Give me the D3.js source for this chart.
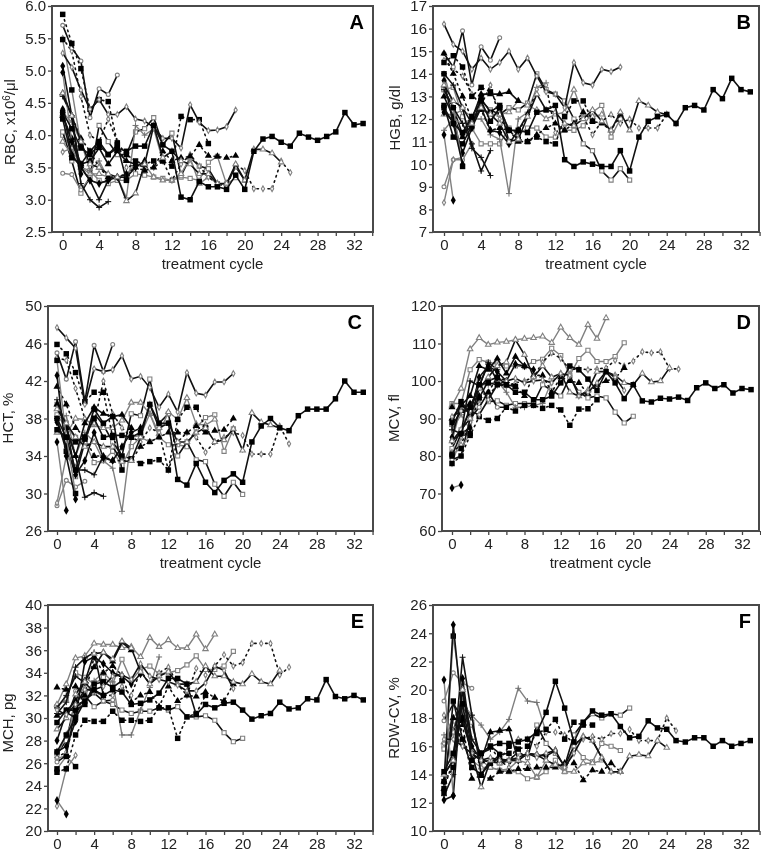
<!DOCTYPE html>
<html>
<head>
<meta charset="utf-8">
<script src="https://cdn.jsdelivr.net/npm/d3@7"></script>
<style>
  body { margin: 0; background: #fff; }
  svg { display: block; filter: blur(0.35px); }
  text { font-family: "Liberation Sans", Arial, sans-serif; fill: #222; }
  .axis text { font-size: 15px; }
  .axis line { stroke: #444; stroke-width: 1.3px; }
  .axis path { display: none; }
  .frame { fill: none; stroke: #4a4a4a; stroke-width: 2px; }
  .tag { font-size: 20px; font-weight: bold; fill: #000; }
</style>
</head>
<body>
<div id="chart"></div>
<script>
// one entry per patient, same order in every value table below
var patients = ["p", "f", "d", "i", "l", "m", "g", "c", "k", "j", "q", "t", "u", "v", "r", "s", "n", "h", "e", "b", "a"];

// line: gray/black/dash, mark: symbol type, open: hollow gray marker
var looks = {
    p: ["gray", "square", true], f: ["black", "square", true], d: ["gray", "triangle", true],
    i: ["gray", "plus", false], l: ["gray", "circle", true], m: ["gray", "diamond", true],
    g: ["dash", "diamond", true], c: ["black", "circle", true], k: ["black", "plus", false],
    j: ["black", "plus", false], q: ["dash", "triangle", false], t: ["black", "diamond", false],
    u: ["black", "triangle", false], v: ["black", "square", false], r: ["gray", "square", false],
    s: ["black", "diamond", false], n: ["gray", "diamond", false], h: ["dash", "square", false],
    e: ["black", "triangle", true], b: ["black", "diamond", true], a: ["black", "square", false]
};

var rbc = [
    [4.0,3.8,3.5,3.45,3.3,3.25,3.3,3.3,3.4,3.38,3.35,3.33,3.3,3.35,3.33,3.3,3.58,3.67,3.24,3.34],
    [4.05,3.6,3.1,3.35,4.15,3.9,3.7,3.7,4.05,4.1,4.27,3.85,4.03,3.37,3.65,3.52,3.48,3.25,3.24,3.51,3.3],
    [3.9,3.7,3.5,3.4,3.4,3.35,3.35,3.4,3.55,3.55,3.35,3.3,3.3,3.4,3.65,3.25,3.35,3.25],
    [4.35,4.2,3.9,3.45,3.6,3.33,3.35,3.03,4.15,4,4.1,3.6],
    [3.41,3.39,3.15,3.35],
    [3.74,3.8,3.85],
    [5.5,5.3,4.6,4,3.9,4.25,3.9,3.5,3.55,3.5,3.5,3.6,3.3,3.55,3.7,3.52,3.35,3.25,3.2,3.55,3.45,3.17,3.17,3.17,3.6,3.42],
    [5.7,5.35,5.15,4.27,4.72,4.63,4.93],
    [4.3,3.9,3.5,3.3,3,3.3],
    [4.6,4.3,3.25,3,2.88,2.97],
    [4.65,4.3,3.95,3.75,3.5,3.35,3.35,3.4,3.5,3.45,3.5,3.75,3.6,3.65,3.67,3.85,3.68,3.67,3.65,3.68],
    [4.4,3.7,3.5,3.3,3.25,3.3,3.35,3.35,3.5,3.6],
    [4.3,3.95,3.55,3.6,3.8,3.55,3.75,3.6,3.55],
    [4.25,3.65,3.55,3.75,3.9,3.7,3.85,3.3],
    [5.48,4.7,3.85],
    [5.07,4.3,3.4],
    [4.97,3.9],
    [5.87,5.42,5.03,4.4,4.55,4.52,3.88,3.7,3.6,3.55,3.6,3.6,3.52,4.29,4.24,4.24,3.87],
    [4.65,4.3,3.9,3.55,3.5,3.4,3.35,2.98,3.1,3.55,4.15,3.65,3.75,3.6,3.55,3.4,3.4,3.25,3.25,3.55,3.3,3.78,3.78,3.72,3.58],
    [5.27,5.05,4.7,4.4,4.55,4.32,4.32,4.44,4.25,4.22,4.12,3.95,3.95,3.8,4.47,4.2,4.07,4.08,4.13,4.39],
    [4.35,4.1,3.8,3.7,3.85,3.7,3.8,3.75,3.83,3.83,4.15,3.85,3.75,3.04,3,3.28,3.2,3.2,3.16,3.38,3.16,3.75,3.94,3.98,3.89,3.83,4.03,3.97,3.92,3.98,4.05,4.35,4.16,4.18]
];

var hgb = [
    [13.3,13.4,12.1,11.6,10.9,10.9,10.9,11.6,11.3,11.6,11.6,11.2,11.2,11.5,11.5,11.7,12.3,12.6,11.2,12],
    [13.3,12.5,11.3,11.7,12.8,12.4,12.2,12.5,12.4,12.7,14,13.3,13.1,12.8,12,10.9,10.6,9.7,9.3,9.8,9.3],
    [12.2,12.2,12.4,12.1,12.4,12.2,12.2,12.3,12.8,12.6,12.4,12,12.2,12.3,13.3,12.2,12.1,12.2],
    [11.5,12,11.8,12,12,11.3,11.1,8.7,12,12.3,13.4,13.6],
    [9,10.2,10.2,10.9],
    [8.3,10.2,10.3],
    [14.6,14.2,13.9,13.1,12.6,13.5,12,11.5,11.4,12.2,13.3,13.5,11.4,11.7,11.8,12.1,11.3,11.9,12.2,11.8,12,11.6,11.6,11.6,12.2,11.8],
    [14.9,14.3,15.9,13.5,15.2,14.6,15.6],
    [13.3,12.5,11.8,10.9,9.7,10.6],
    [14,13.5,12.5,10.7,10.3,9.5],
    [14.9,14,13,12,12.4,11.5,11.6,11.5,11,11,11.3,11.6,11.8,11.5,11.8,12.3,11.9,11.8,11.5,12.2],
    [12.3,11.9,10.5,11.6,12.5,11.5,11.4,10.9,11.5,12.2],
    [13,12.1,11.2,12,13.1,13.1,13.1,13.2,12.8],
    [12.6,11.2,10.9,11.7,12.9,12.3,12.6,11],
    [14,12.5,9.9],
    [13.7,11.8,10],
    [11.3,8.4],
    [14.5,14.8,14.3,13,13.4,13.2,12.5,11.5,11.1,11,11.2,11,10.9,12.1,12.8,12.8,11.9],
    [13.5,12.8,12.5,11.8,12.5,12.2,11.8,11,11.1,12.1,13.1,12.4,12.3,11.8,11.7,12,12.4,11.9,11.5,12.3,11.5,12.8,12.6,12.3,12.2],
    [16.2,15.3,15,14.2,14.7,14.2,14.5,15,14.2,14.7,13.9,13.2,13.1,12.5,14.5,13.6,13.5,14.2,14.1,14.3],
    [12.5,11.8,11.4,12.1,12.8,11.9,12.5,11.5,11.5,11.4,12.3,12.4,12.6,10.2,9.9,10.1,10,9.9,9.9,10.6,9.7,11.2,11.9,12.1,12.2,11.8,12.5,12.6,12.4,13.3,12.9,13.8,13.3,13.2]
];

var hct = [
    [38.4,37,36,35.5,33.3,33.5,34.5,33,35,36,35.5,36,35.2,35.2,35,37,38.1,38.4,34.5,36.9],
    [39.5,37.5,31.8,35.5,38.5,37.3,35.5,34,38.5,38.3,42.2,37.5,38.5,34,35.5,33.6,33.4,31,29.7,31.2,29.9],
    [36.5,36.3,38,37.9,37.3,37,37,37.8,39.7,39.7,38.5,36.4,38.7,37.9,40.2,37.4,37.3,37.9],
    [38,38.3,34,36.5,35.5,33.5,32.7,28.1,36,36.2,38.5,36],
    [28.7,31.4,30.7,31.3],
    [29,34,32.8],
    [44.5,44.2,41.2,38,37.5,42,38.5,37,36,35.5,37,36.5,32.5,35.5,36.5,36,34.4,35.5,36,36.5,36.2,34.2,34.2,34.2,37.2,35.3],
    [45,42.2,46.2,39.8,45.8,43,45.9],
    [38,36,32.5,32.5,32,34],
    [40,37,34,29.6,30.1,29.7],
    [41.4,39.5,37,36,34,34,33.5,33.5,33.5,35,35.5,36,36.5,36.5,36.5,37.2,36.5,36.7,36.8,38],
    [37.6,35,32,33.5,36.5,33.8,33.5,35,36.5,37],
    [39.5,37,34,37.5,39.2,38.5,38.2,38.4,37],
    [38,34.5,32.5,35.8,39,37.5,38.2,32.5],
    [44.2,36,30],
    [42.6,34,29.4],
    [35.5,28.2],
    [45.9,44.9,42.9,39.8,40.8,40.8,36,34,33.7,33.2,33.4,33.6,32.5,37.9,39.2,39.2,37],
    [39,37.5,36,35,35.5,35,35,33.4,33.5,36,39.5,37,37.5,35.5,35.5,36.5,37,35.5,35.7,36.9,34.6,38.6,37.6,37.3,37],
    [47.7,46.6,45.5,39.5,43.3,43,43.2,44.7,42.2,42.5,41.3,39.2,40.6,38.7,42.9,40.7,40.5,41.9,41.9,42.8],
    [36.8,36,35.5,36,38,36,36.2,36.2,36,36.5,39.5,37.5,37.5,31.5,30.9,33.2,31.2,30.1,31.4,32.1,31.2,35.5,37.2,38,37,36.7,38.3,39,39,39,40.1,42,40.8,40.8]
];

var mcv = [
    [94,94,103,105.7,105,104.5,104,104,103.8,105.2,105.8,108.7,106.8,101.5,106,108.2,105.2,105.2,106.5,110.2],
    [82,87,92,100,94.5,94.7,93.5,94,94,94,99,97.5,96,101,97,95.5,96,95.5,91.7,88.8,90.6],
    [93.5,98,108.5,111.5,109.7,110.3,110.5,111,111.3,111.5,111.9,110.2,114.3,111.5,109.7,115,111.3,116.8],
    [87,91,87,99,99,100,97,93,93,93.5,94,100],
    [84,93,94,94],
    [78,85,88],
    [81,83,89,95,96,99,98.7,99.5,100,101,105,107.5,106,103,103.3,103,103.2,103.5,105.5,104,105.3,107.8,107.5,107.8,103.3,103.2],
    [79,80,90,93,97,93,93],
    [88,92,92.5,98.5,105,103],
    [87,86,100,98.7,104.5,100],
    [93,92,94,96,97,101,100,98.5,96,101.5,101.5,97,101,100,99.5,96.6,99,100,100.7,103.5],
    [85,94,91,101,104,102.5,100,104.5,104,103],
    [90,93.5,96,104,103,106,102,106.5,104],
    [89,94.5,91.5,95.5,100,101,99,98.5],
    [80.5,82,86],
    [84,86,87.5],
    [71.5,72.3],
    [78,80,85.5,90.5,89.5,90,93,92,93.5,93.5,92.7,93.5,92.3,88.2,92.5,92.6,95],
    [84,87,90,98,101,104,105,111,107,101,104,101,102,97,96,97.5,102.5,102.5,101.5,99.5,99,102,99.7,100,103.5],
    [90.5,92,92,91,95,99,100,100.7,99.5,100,100.3,99.5,102,101.5,96,97,99.5,102.5,101,97.5],
    [80,86,93,99,99.5,99,99,97,97,95,95,96,99.5,104,103,100.5,97.5,102.5,99.5,95.3,99,94.7,94.4,95.4,95.2,95.7,94.8,98.2,99.5,98,99,96.8,98,97.7]
];

var mch = [
    [31,31.7,34,33.6,33,33.6,33,35.2,33.3,34.3,34.6,33.9,34,34.2,34.7,35.5,34.3,34.3,34.6,35.9],
    [26.8,28,31.6,32,31,31.5,31.2,30.7,30.4,30.6,30.6,30.9,30.7,31,30.1,30.1,30.2,29.8,28.7,27.9,28.2],
    [31.2,33,35.3,35.5,36.6,36.5,36.5,36.2,36.3,35.4,37.1,36.3,36.9,36.2,36.2,37.4,36.1,37.4],
    [26.5,28.6,30.2,32,33.3,34,33.2,28.5,28.5,30.7,32.7,35.4],
    [26.4,26.7,32.4,32.5],
    [22.2,25.5,26.7],
    [26.5,27,30,32.7,32.3,32,32,32.8,32,34.2,33,34,34.5,33,32,34.4,33.8,34.6,35.6,34.6,34.9,36.6,36.6,36.6,33.8,34.5],
    [26.1,26.7,30.9,31.6,32.2,31.5,31.6],
    [30.9,32,33.7,33.1,32.3,32.1],
    [30.4,31.4,34.5,35.3,35.8,32],
    [32.7,32.5,32.8,32,35.4,34,34.6,33.8,31.4,32,32.3,31,32.8,31.5,32,31.9,32.3,31.8,31.5,33],
    [28,30.5,30,35,35.4,34.8,34,33.7,33,33.9],
    [30.2,30.6,31.5,33.3,34.5,35.8,35,36.7,36],
    [29.6,30.7,30.7,31.2,33,33.2,32.7,33.3],
    [25.5,26.6,25.7],
    [27,27.5,29.7],
    [22.7,21.5],
    [25.2,25.5,28.5,29.8,29.7,29.7,30.6,29.8,29.8,29.7,29.8,30.9,30.9,28.2,30.1,30.4,32],
    [29,30,32.1,33.2,35.7,35.8,35.2,36.8,36.2,34.1,33,33.7,34.1,33,33,33.2,34.6,33.7,33.7,33.2,33,33.9,33.2,33,34.2],
    [30.7,30.3,31.2,32.5,32.5,32.8,33.7,33.8,33.4,34.8,33.7,33.4,33.2,32.9,32.4,32.4,33.1,34.6,34.2,32.6],
    [27,28.5,30,31.5,32.5,32,32.5,32.3,31.2,31.3,31.6,32.2,33.5,33.5,33,30.3,31.2,30.9,31.3,31.4,30.7,29.9,30.2,30.4,31.4,30.8,30.9,31.7,31.6,33.4,31.9,31.7,32,31.6]
];

var rdw = [
    [16,17.5,18,17.5,15,14.5,14.3,14.2,14.2,13.7,13.8,14.2,15,14.2,16,15.2,14.9,16.2,16,15.7],
    [15.8,17,19.5,17.7,15,14.9,14.8,15,15.6,15.2,17.5,16.2,15.5,14.6,16.8,17.7,18.3,18,18.3,18.2,18.7],
    [16.3,18,19,15,14.5,14.5,14.3,14.4,15,14.8,13.8,15,14.7,14.2,14.2,14.8,14.8,15],
    [16.8,17,19,18.2,17.5,16.5,17,17.9,20.1,19.2,19.1,17],
    [19.2,21.2,20.5,20.1],
    [18.2,17,16],
    [16.2,17,19,15.5,14.8,15,15,14.5,16.5,16.5,16,17,17,16.8,16.2,16.5,16.7,16.5,16.9,16.9,17.2,16.4,16.4,16.4,18,17.1],
    [17.8,19,18,15.5,15.5,16,15.5],
    [14,15,22.3,18.2,14,15],
    [12.5,14,20,16.5,15.5,15.8],
    [13,15,17.5,13.7,13.9,13.7,14.2,14.2,14.4,14.4,14.5,14.5,14.5,14.8,14.8,13.6,14.3,14.2,14.8,14.2],
    [12.2,12.5,20.8,16,15,14.9,15.1,15,15,15.5,15.4,15.3,15.7],
    [13.5,18,17.8,15.5,15,17,17.1,17.2,15],
    [12.7,19.2,16.5,14.5,14,14.8,15.4,15.5],
    [13,23.8,19],
    [13.5,24.6,18],
    [20.7,12.5],
    [13.5,14.5,18,15.5,15.5,16,15,16,15.8,16,16.9,17.2,17.9,16.5,17.7,17.5,17.5],
    [14,15,20,15.5,13.1,15,14.8,15,15,15.5,15.4,15,14.7,14.6,16,16.7,16.4,15.2,14.2,14.2,15.3,15.4,15.3,16.4,15.9],
    [16.5,16.5,16,15.5,15,15.2,15,15,15.2,15.5,15.2,15.5,15.7,14.5,15.5,16.7,16.4,15.2,14.2,14.2],
    [14.2,15.5,19,15,15.5,16,16.2,16.2,16.3,16.5,17,18.4,20.6,18.7,16.3,17.7,18.5,18.2,18.3,17.4,16.6,16.7,17.8,17.3,17.2,16.4,16.3,16.6,16.6,16,16.4,16,16.2,16.4]
];

var panels = [
    {tag: "A", values: rbc, yDomain: [2.5, 6], yStep: 0.5, fmt: ".1f", left: 52, right: 373, top: 6, bottom: 232, x0: 62.7, x32: 354, titleX: 15, titleY: 122, xTitle: true, tagX: 364},
    {tag: "B", values: hgb, yDomain: [7, 17], yStep: 1, fmt: "d", left: 433, right: 759, top: 6, bottom: 232, x0: 444, x32: 741, titleX: 400, titleY: 118, xTitle: true, tagX: 751},
    {tag: "C", values: hct, yDomain: [26, 50], yStep: 4, fmt: "d", left: 48, right: 373, top: 306, bottom: 531, x0: 57, x32: 354, titleX: 13, titleY: 418, xTitle: true, tagX: 362},
    {tag: "D", values: mcv, yDomain: [60, 120], yStep: 10, fmt: "d", left: 442, right: 759, top: 306, bottom: 531, x0: 452, x32: 742, titleX: 399, titleY: 418, xTitle: true, tagX: 751},
    {tag: "E", values: mch, yDomain: [20, 40], yStep: 2, fmt: "d", left: 48, right: 373, top: 605, bottom: 831, x0: 57, x32: 354, titleX: 13, titleY: 723, xTitle: false, tagX: 364},
    {tag: "F", values: rdw, yDomain: [10, 26], yStep: 2, fmt: "d", left: 433, right: 759, top: 605, bottom: 831, x0: 444, x32: 741, titleX: 399, titleY: 718, xTitle: false, tagX: 751}
];
var yTitles = {A: null, B: "HGB, g/dl", C: "HCT, %", D: "MCV, fl", E: "MCH, pg", F: "RDW-CV, %"};

var svg = d3.select("#chart").append("svg")
    .attr("width", 761)
    .attr("height", 852);

var symbols = {
    square: d3.symbolSquare,
    diamond: d3.symbolDiamond,
    triangle: d3.symbolTriangle,
    circle: d3.symbolCircle
};

// open marks are drawn smaller, their stroke adds to the size
var openSizes = {square: 17, diamond: 9, triangle: 13, circle: 12};
var solidSizes = {square: 30, diamond: 22, triangle: 22, circle: 22};

function drawPanel(p) {
    var xScale = d3.scaleLinear().domain([0, 32]).range([p.x0, p.x32]);
    var yScale = d3.scaleLinear().domain(p.yDomain).range([p.bottom, p.top]);
    var g = svg.append("g");

    var line = d3.line()
        .x(function(d, i) { return xScale(i); })
        .y(function(d) { return yScale(d); });

    patients.forEach(function(id, k) {
        var look = looks[id], vals = p.values[k];
        var row = g.append("g");

        row.append("path")
            .attr("d", line(vals))
            .attr("fill", "none")
            .attr("stroke", look[0] == "gray" ? "#808080" : "#111")
            .attr("stroke-width", look[0] == "gray" ? 1.4 : 1.6)
            .attr("stroke-dasharray", look[0] == "dash" ? "1.5 4" : null)
            .attr("stroke-linecap", look[0] == "dash" ? "round" : "butt");

        vals.forEach(function(v, i) {
            var t = "translate(" + xScale(i) + "," + yScale(v) + ")";
            if (look[1] == "plus") {
                row.append("path")
                    .attr("d", "M-3,0H3M0,-3V3")
                    .attr("transform", t)
                    .attr("stroke", look[0] == "gray" ? "#707070" : "#111")
                    .attr("stroke-width", 1);
            } else {
                var size = look[2] ? openSizes[look[1]] : solidSizes[look[1]];
                row.append("path")
                    .attr("d", d3.symbol().type(symbols[look[1]]).size(size)())
                    .attr("transform", t)
                    .attr("fill", look[2] ? "#fff" : "#000")
                    .attr("stroke", look[2] ? "#808080" : "none")
                    .attr("stroke-width", 1.1);
            }
        });
    });

    // ticks every 2 cycles, numbers only every 4
    var xAxis = d3.axisBottom(xScale)
        .tickValues(d3.range(0, 35, 2))
        .tickSize(4)
        .tickPadding(3)
        .tickFormat(function(d) { return d % 4 == 0 ? d : ""; });

    var yAxis = d3.axisLeft(yScale)
        .tickValues(d3.range(p.yDomain[0], p.yDomain[1] + p.yStep / 2, p.yStep))
        .tickSize(4)
        .tickPadding(2)
        .tickFormat(d3.format(p.fmt));

    g.append("g").attr("class", "axis")
        .attr("transform", "translate(0," + p.bottom + ")")
        .call(xAxis);
    g.append("g").attr("class", "axis")
        .attr("transform", "translate(" + p.left + ",0)")
        .call(yAxis);

    g.append("rect").attr("class", "frame")
        .attr("x", p.left).attr("y", p.top)
        .attr("width", p.right - p.left).attr("height", p.bottom - p.top);

    var title = g.append("text")
        .attr("transform", "translate(" + p.titleX + "," + p.titleY + ") rotate(-90)")
        .attr("text-anchor", "middle")
        .style("font-size", "15px");
    if (p.tag == "A") {
        title.append("tspan").text("RBC, x10");
        title.append("tspan").attr("dy", -5).style("font-size", "10px").text("6");
        title.append("tspan").attr("dy", 5).text("/μl");
    } else {
        title.text(yTitles[p.tag]);
    }

    if (p.xTitle) {
        g.append("text")
            .attr("x", (p.left + p.right) / 2)
            .attr("y", p.bottom + 37)
            .attr("text-anchor", "middle")
            .style("font-size", "15px")
            .text("treatment cycle");
    }

    g.append("text").attr("class", "tag")
        .attr("x", p.tagX)
        .attr("y", p.top + 23)
        .attr("text-anchor", "end")
        .text(p.tag);
}

panels.forEach(drawPanel);
</script>
</body>
</html>
